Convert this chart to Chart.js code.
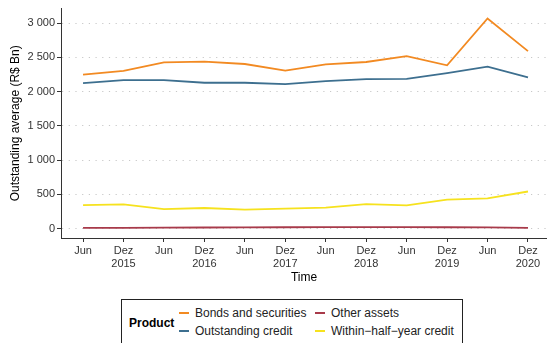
<!DOCTYPE html>
<html>
<head>
<meta charset="utf-8">
<script src="https://cdn.jsdelivr.net/npm/chart.js@4/dist/chart.umd.min.js"></script>
<style>
  html, body { margin: 0; padding: 0; background: #fff; }
  body { width: 547px; height: 343px; position: relative; overflow: hidden; font-family: "Liberation Sans", Arial, sans-serif; }
  #wrap { position: absolute; left: 0; top: 0; width: 547px; height: 288px; }
  #legend { position: absolute; left: 121px; top: 299px; width: 342px; height: 50px; border: 1px solid #222; box-sizing: border-box; }
  #legend .title { position: absolute; left: 7px; top: 16px; font-weight: bold; font-size: 12px; color: #000; }
  #legend .item { position: absolute; font-size: 12px; color: #222; white-space: nowrap; line-height: 14px; }
  #legend .key { display: inline-block; width: 10px; height: 2px; vertical-align: middle; margin-right: 6px; position: relative; top: -1px; }
</style>
</head>
<body>
<div id="wrap"><canvas id="c" width="547" height="288"></canvas></div>
<div id="legend"></div>
<script>
const categories = ["Jun 2015","Dez 2015","Jun 2016","Dez 2016","Jun 2017","Dez 2017","Jun 2018","Dez 2018","Jun 2019","Dez 2019","Jun 2020","Dez 2020"];
const tickLabels = [["Jun"],["Dez","2015"],["Jun"],["Dez","2016"],["Jun"],["Dez","2017"],["Jun"],["Dez","2018"],["Jun"],["Dez","2019"],["Jun"],["Dez","2020"]];
const bondsAndSecurities = [2248, 2301, 2427, 2436, 2402, 2306, 2398, 2431, 2518, 2383, 3066, 2590];
const outstandingCredit = [2123, 2167, 2167, 2128, 2128, 2109, 2152, 2181, 2186, 2268, 2363, 2205];
const otherAssets = [8, 10, 12, 14, 16, 18, 20, 20, 20, 18, 15, 8];
const withinHalfYearCredit = [342, 352, 284, 299, 276, 290, 305, 357, 338, 420, 439, 540];
const seriesNames = ["Bonds and securities", "Outstanding credit", "Other assets", "Within\u2212half\u2212year credit"];
const seriesColors = ["#F28A22", "#3D6F8F", "#A83A4A", "#F6E21E"];
const yTicks = [0, 500, 1000, 1500, 2000, 2500, 3000];

const values = [bondsAndSecurities, outstandingCredit, otherAssets, withinHalfYearCredit];
const datasets = values.map((arr, i) => ({
  label: seriesNames[i],
  data: arr.map((v, j) => ({ x: j, y: v })),
  borderColor: seriesColors[i],
  backgroundColor: seriesColors[i],
  borderWidth: 1.8,
  pointRadius: 0,
  tension: 0,
  fill: false
}));
const font = { family: "'Liberation Sans', Arial, sans-serif" };

const chart = new Chart(document.getElementById('c'), {
  type: 'line',
  data: { datasets },
  options: {
    responsive: false,
    animation: false,
    devicePixelRatio: 1,
    layout: { padding: { top: 4, right: 0, left: 0, bottom: 0 } },
    plugins: { legend: { display: false }, tooltip: { enabled: false } },
    scales: {
      x: {
        type: 'linear',
        min: -0.545,
        max: 11.47,
        afterBuildTicks: (s) => { s.ticks = categories.map((c, i) => ({ value: i })); },
        afterFit: (s) => { s.height = 50; },
        ticks: {
          autoSkip: false,
          maxRotation: 0,
          padding: 2,
          color: '#333',
          font: { ...font, size: 11 },
          callback: (v) => tickLabels[v]
        },
        grid: { drawOnChartArea: false, drawTicks: true, tickLength: 4, tickColor: '#333', tickWidth: 1 },
        border: { display: true, color: '#333', width: 1 },
        title: { display: true, text: 'Time', color: '#000', font: { ...font, size: 12 }, padding: { top: 0, bottom: 3 } }
      },
      y: {
        type: 'linear',
        min: -139,
        max: 3211,
        afterBuildTicks: (s) => { s.ticks = yTicks.map(v => ({ value: v })); },
        afterFit: (s) => { s.width = 61; },
        ticks: {
          padding: 2,
          color: '#333',
          font: { ...font, size: 11 },
          callback: (v) => String(v).replace(/\B(?=(\d{3})+(?!\d))/g, ' ')
        },
        grid: { drawOnChartArea: true, drawTicks: true, tickLength: 4, color: '#c8c8c8', lineWidth: 1, tickColor: '#333', tickWidth: 1, tickBorderDash: [] },
        border: { display: true, color: '#333', width: 1, dash: [1.2, 5.5] },
        title: { display: true, text: 'Outstanding average (R$ Bn)', color: '#000', font: { ...font, size: 12 }, padding: { top: 8, bottom: 0 } }
      }
    }
  }
});

const legend = document.getElementById('legend');
const t = document.createElement('div');
t.className = 'title';
t.textContent = 'Product';
legend.appendChild(t);
const pos = [[57, 6], [57, 24], [193, 6], [193, 24]];
chart.data.datasets.forEach((ds, i) => {
  const it = document.createElement('div');
  it.className = 'item';
  it.style.left = pos[i][0] + 'px';
  it.style.top = pos[i][1] + 'px';
  const k = document.createElement('span');
  k.className = 'key';
  k.style.background = ds.borderColor;
  it.appendChild(k);
  it.appendChild(document.createTextNode(ds.label));
  legend.appendChild(it);
});
</script>
</body>
</html>
